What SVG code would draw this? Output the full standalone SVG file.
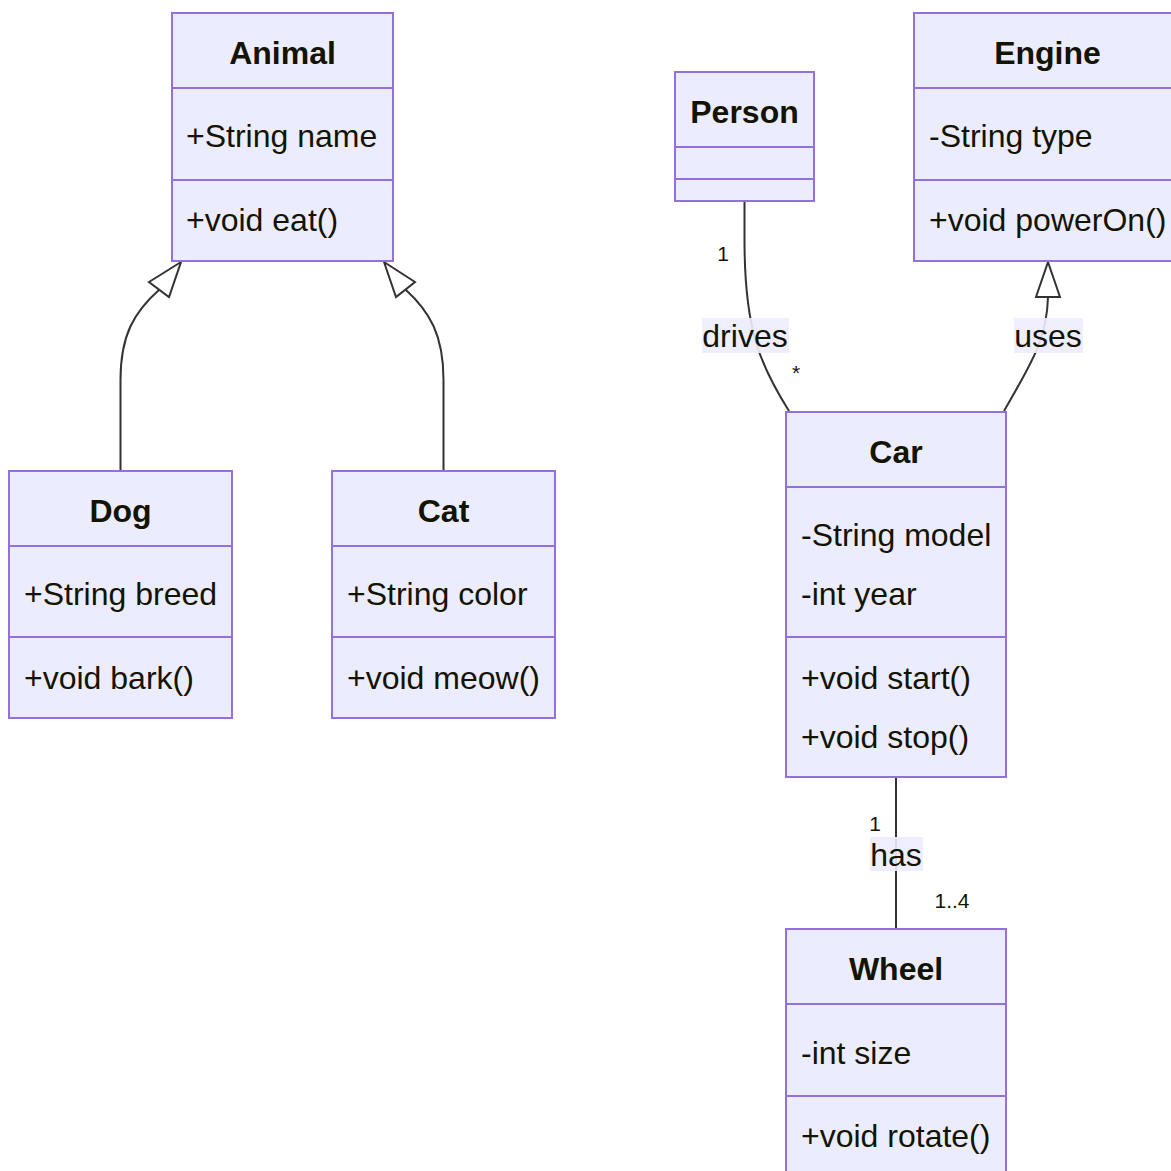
<svg xmlns="http://www.w3.org/2000/svg" width="1171" height="1171" viewBox="0 0 1171 1171">
<style>
.box{fill:#ECECFF;stroke:#9370DB;stroke-width:2}
.div{stroke:#9370DB;stroke-width:2}
.t{font-family:"Liberation Sans",Arial,sans-serif;font-size:32px;fill:#131300}
.h{font-weight:bold;text-anchor:middle}
.e{fill:none;stroke:#333333;stroke-width:2}
.lb{fill:#ECECFF;opacity:0.9}
.c{font-family:"Liberation Sans",Arial,sans-serif;font-size:21px;fill:#131300}
.ar{fill:#ffffff;stroke:#333333;stroke-width:2}
</style>
<rect width="1171" height="1171" fill="#ffffff"/>
<g id="connectors">
<path class="e" d="M120.5,471 L120.5,380 C120.5,335 134,312 160,289"/>
<polygon class="ar" points="181,262 149,282 169,297"/>
<path class="e" d="M443.5,471 L443.5,380 C443.5,335 430,312 405,289"/>
<polygon class="ar" points="384,262 415,282 396,297"/>
<path class="e" d="M744.5,202 L744.5,240 C744.5,330 760,365 789,411"/>
<path class="e" d="M1004,411 C1030,365 1047,340 1048,297"/>
<polygon class="ar" points="1048,262 1036,297 1060,297"/>
<path class="e" d="M896,778 L896,929"/>
<rect class="lb" x="702" y="318" width="87" height="35"/>
<text class="t" x="745" y="347" text-anchor="middle">drives</text>
<rect class="lb" x="1014" y="318" width="69" height="35"/>
<text class="t" x="1048" y="347" text-anchor="middle">uses</text>
<rect class="lb" x="870" y="837" width="53" height="34"/>
<text class="t" x="896" y="866" text-anchor="middle">has</text>
<text class="c" x="723" y="261" text-anchor="middle">1</text>
<text class="c" x="796" y="380" text-anchor="middle">*</text>
<text class="c" x="875" y="831" text-anchor="middle">1</text>
<text class="c" x="952" y="908" text-anchor="middle">1..4</text>
</g>
<g id="Animal">
<rect class="box" x="172" y="13" width="221" height="248"/>
<line class="div" x1="172" y1="88" x2="393" y2="88"/>
<line class="div" x1="172" y1="180" x2="393" y2="180"/>
<text class="t h" x="282.5" y="64">Animal</text>
<text class="t" x="186" y="147">+String name</text>
<text class="t" x="186" y="231">+void eat()</text>
</g>
<g id="Dog">
<rect class="box" x="9" y="471" width="223" height="247"/>
<line class="div" x1="9" y1="546" x2="232" y2="546"/>
<line class="div" x1="9" y1="637" x2="232" y2="637"/>
<text class="t h" x="120.5" y="522">Dog</text>
<text class="t" x="24" y="605">+String breed</text>
<text class="t" x="24" y="689">+void bark()</text>
</g>
<g id="Cat">
<rect class="box" x="332" y="471" width="223" height="247"/>
<line class="div" x1="332" y1="546" x2="555" y2="546"/>
<line class="div" x1="332" y1="637" x2="555" y2="637"/>
<text class="t h" x="443.5" y="522">Cat</text>
<text class="t" x="347" y="605">+String color</text>
<text class="t" x="347" y="689">+void meow()</text>
</g>
<g id="Person">
<rect class="box" x="675" y="72" width="139" height="129"/>
<line class="div" x1="675" y1="147" x2="814" y2="147"/>
<line class="div" x1="675" y1="179" x2="814" y2="179"/>
<text class="t h" x="744.5" y="123">Person</text>
</g>
<g id="Engine">
<rect class="box" x="914" y="13" width="270" height="248"/>
<line class="div" x1="914" y1="88" x2="1184" y2="88"/>
<line class="div" x1="914" y1="180" x2="1184" y2="180"/>
<text class="t h" x="1047.5" y="64">Engine</text>
<text class="t" x="929" y="147">-String type</text>
<text class="t" x="929" y="231">+void powerOn()</text>
</g>
<g id="Car">
<rect class="box" x="786" y="412" width="220" height="365"/>
<line class="div" x1="786" y1="487" x2="1006" y2="487"/>
<line class="div" x1="786" y1="637" x2="1006" y2="637"/>
<text class="t h" x="896" y="463">Car</text>
<text class="t" x="801" y="546">-String model</text>
<text class="t" x="801" y="605">-int year</text>
<text class="t" x="801" y="689">+void start()</text>
<text class="t" x="801" y="748">+void stop()</text>
</g>
<g id="Wheel">
<rect class="box" x="786" y="929" width="220" height="260"/>
<line class="div" x1="786" y1="1004" x2="1006" y2="1004"/>
<line class="div" x1="786" y1="1096" x2="1006" y2="1096"/>
<text class="t h" x="896" y="980">Wheel</text>
<text class="t" x="801" y="1064">-int size</text>
<text class="t" x="801" y="1147">+void rotate()</text>
</g>
</svg>
